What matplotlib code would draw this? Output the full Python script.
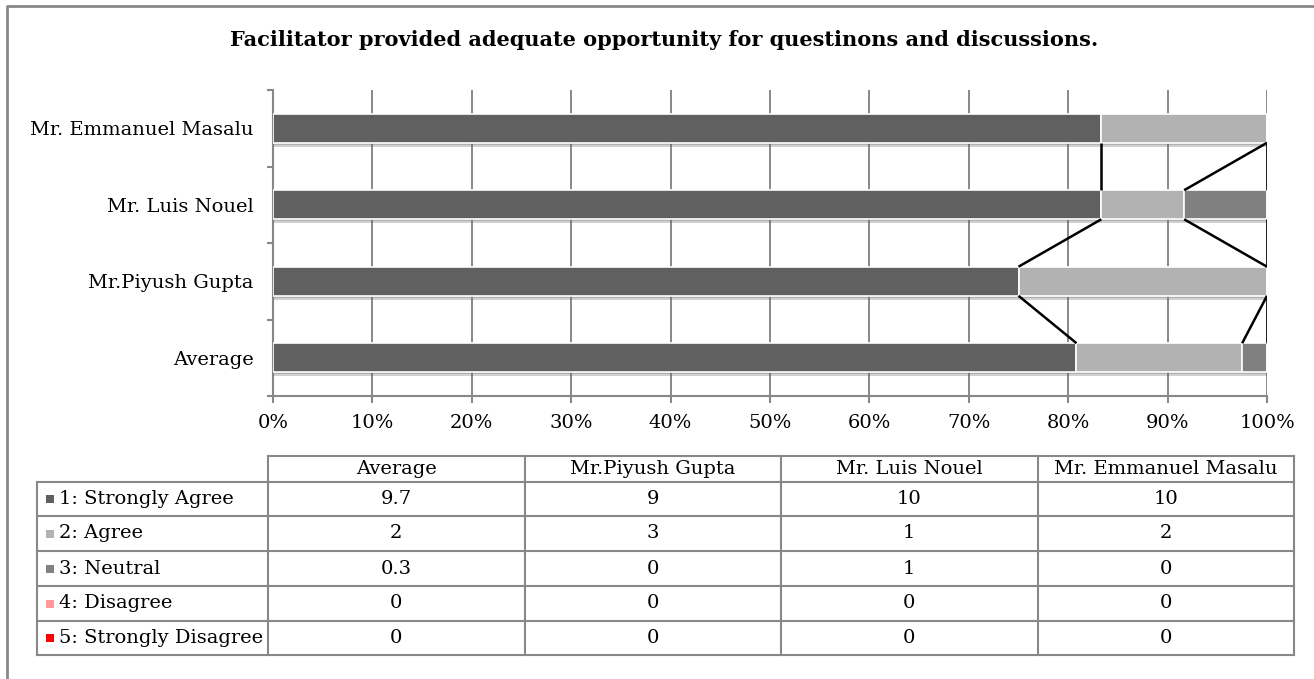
import matplotlib
matplotlib.use("Agg")
import matplotlib.pyplot as plt
import matplotlib.patheffects as pe
import numpy as np

# survey counts per response level, one entry per facilitator column
facilitators = ["Average", "Mr.Piyush Gupta", "Mr. Luis Nouel", "Mr. Emmanuel Masalu"]
responses = ["1: Strongly Agree", "2: Agree", "3: Neutral", "4: Disagree",
             "5: Strongly Disagree"]
strongly_agree = [9.7, 9, 10, 10]
agree = [2, 3, 1, 2]
neutral = [0.3, 0, 1, 0]
disagree = [0, 0, 0, 0]
strongly_disagree = [0, 0, 0, 0]
colors = ["#606060", "#b2b2b2", "#808080", "#ff9999", "#ff0000"]
title = "Facilitator provided adequate opportunity for questinons and discussions."

counts = np.array([strongly_agree, agree, neutral, disagree, strongly_disagree], float)
shares = counts / counts.sum(axis=0)
cum = np.cumsum(shares, axis=0)

W, H = 1314, 679
FS = 14
fig = plt.figure(figsize=(W / 100, H / 100), dpi=100)
plt.rcParams["font.family"] = ["DejaVu Serif"]
GRID = "#888888"

# page overlay in pixel units: frame, title and the data table
pg = fig.add_axes([0, 0, 1, 1])
pg.set_xlim(0, W)
pg.set_ylim(H, 0)
pg.axis("off")
pg.plot([7, 7, W], [H, 6, 6], color=GRID, lw=2)
pg.text(664, 40, title, ha="center", va="center", fontsize=15, fontweight="bold")

# chart
ax = fig.add_axes([273 / W, 1 - 396 / H, (1267 - 273) / W, (396 - 90) / H])
y = np.arange(len(facilitators))
h = 0.38
shadow = [pe.SimplePatchShadow(offset=(0, -3), shadow_rgbFace="#666666", alpha=0.3),
          pe.SimplePatchShadow(offset=(0, -1.5), shadow_rgbFace="#666666", alpha=0.3),
          pe.Normal()]
left = np.zeros(len(facilitators))
for k in range(len(responses)):
    bars = ax.barh(y, shares[k], h, left=left, color=colors[k], edgecolor="white",
                   lw=1.2, zorder=3)
    for b in bars:
        b.set_path_effects(shadow)
    left = left + shares[k]

# series lines between neighbouring bars
for k in range(len(responses) - 2):
    for i in range(len(facilitators) - 1):
        ax.plot([cum[k, i], cum[k, i + 1]], [i + h / 2, i + 1 - h / 2],
                color="black", lw=1.8, zorder=4, solid_capstyle="butt")

ax.set_xlim(0, 1)
ax.set_ylim(-0.5, len(facilitators) - 0.5)
ax.set_xticks(np.linspace(0, 1, 11))
ax.set_xticklabels([f"{int(round(v * 100))}%" for v in np.linspace(0, 1, 11)],
                   fontsize=FS)
ax.set_yticks(np.arange(-0.5, len(facilitators), 1.0))
ax.set_yticklabels([])
ax.set_yticks(y, minor=True)
ax.set_yticklabels(facilitators, minor=True, fontsize=FS)
ax.tick_params(axis="y", which="major", length=4, width=1.5, color=GRID, direction="out")
ax.tick_params(axis="y", which="minor", length=0, pad=14)
ax.tick_params(axis="x", length=5, width=1.5, color=GRID, direction="out", pad=8)
ax.xaxis.grid(True, color=GRID, lw=1.4, zorder=0)
ax.set_axisbelow(True)
for s in ("top", "right"):
    ax.spines[s].set_visible(False)
for s in ("left", "bottom"):
    ax.spines[s].set_color(GRID)
    ax.spines[s].set_linewidth(1.5)

# data table below the chart
col_x = np.linspace(268, 1294, len(facilitators) + 1)
row_y = [482, 516, 551, 586, 621, 655]
lab_x0 = 37
lw = 1.5
pg.plot([col_x[0], col_x[-1]], [456, 456], color=GRID, lw=lw)
for cx in col_x:
    pg.plot([cx, cx], [456, row_y[-1]], color=GRID, lw=lw)
pg.plot([lab_x0, lab_x0], [row_y[0], row_y[-1]], color=GRID, lw=lw)
for ry in row_y:
    pg.plot([lab_x0, col_x[-1]], [ry, ry], color=GRID, lw=lw)
for j, name in enumerate(facilitators):
    pg.text((col_x[j] + col_x[j + 1]) / 2, 469, name, ha="center", va="center",
            fontsize=FS)
for k, resp in enumerate(responses):
    yc = (row_y[k] + row_y[k + 1]) / 2
    pg.add_patch(plt.Rectangle((46, yc - 4), 8, 8, color=colors[k], lw=0))
    pg.text(59, yc, resp, ha="left", va="center", fontsize=FS)
    for j in range(len(facilitators)):
        v = counts[k, j]
        pg.text((col_x[j] + col_x[j + 1]) / 2, yc, f"{v:g}", ha="center",
                va="center", fontsize=FS)

fig.savefig("out.png", dpi=100)
